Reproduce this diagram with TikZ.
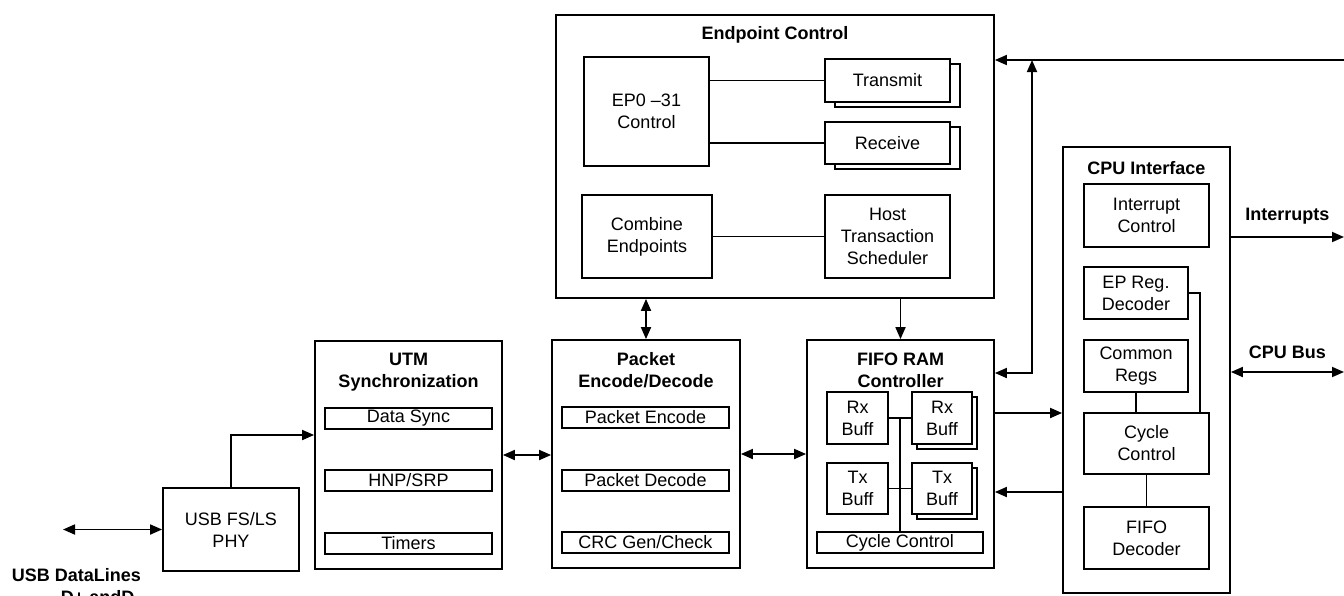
\documentclass[tikz,border=0pt]{standalone}
\usepackage{fontspec}
\setmainfont{Liberation Sans}
\usetikzlibrary{arrows.meta,positioning,shadows}

\begin{document}
\begin{tikzpicture}[x=1pt, y=-1pt, line width=1.8pt,
		font=\fontsize{18}{22}\selectfont,
		box/.style 2 args={draw, fill=white, align=center, inner sep=2pt,
			minimum width=#1, minimum height=#2},
		stack/.style={copy shadow={shadow xshift=#1, shadow yshift=-5pt}},
		ttl/.style={font=\fontsize{18}{22}\selectfont\bfseries, align=center},
		sig/.style={-{Triangle[length=12pt,width=10pt]}},
		bus/.style={{Triangle[length=12pt,width=10pt]}-{Triangle[length=12pt,width=10pt]}}
	]
	\useasboundingbox (0,0) rectangle (1344,595);

	% endpoint control
	\node[box={438pt}{283pt}] (epc) at (775,156.5) {};
	\node[ttl] at (775,35) {Endpoint Control};
	\node[box={125pt}{109pt}] (ep0) at (646.5,111.5) {EP0 --31\\ Control};
	\node[box={125pt}{43pt}, stack=10pt] (tx) at (887.5,80.5) {Transmit};
	\node[box={125pt}{42pt}, stack=10pt] (rx) at (887.5,143) {Receive};
	\node[box={130pt}{83pt}] (comb) at (647,236.5) {Combine\\ Endpoints};
	\node[box={125pt}{83pt}] (host) at (887.5,236.5) {Host\\ Transaction\\ Scheduler};
	\draw (ep0.east |- tx.west) -- (tx.west);
	\draw (ep0.east |- rx.west) -- (rx.west);
	\draw (comb.east) -- (host.west);

	% phy and utm
	\node[box={136pt}{83pt}] (phy) at (231,529.5) {USB FS/LS\\ PHY};
	\node[box={187pt}{228pt}] (utm) at (408.5,455) {};
	\node[ttl] at (408.5,372) {UTM\\ Synchronization};
	\node[box={167pt}{21pt}] (dsync) at (408.5,418.5) {Data Sync};
	\node[box={167pt}{21pt}] (hnp) at (408.5,480.5) {HNP/SRP};
	\node[box={167pt}{21pt}] (tmr) at (408.5,543.5) {Timers};

	% packet encode/decode
	\node[box={188pt}{228pt}] (pkt) at (646,454) {};
	\node[ttl] at (646,370.5) {Packet\\ Encode/Decode};
	\node[box={167pt}{21pt}] (penc) at (645.5,417.5) {Packet Encode};
	\node[box={167pt}{21pt}] (pdec) at (645.5,480.5) {Packet Decode};
	\node[box={167pt}{21pt}] (crc) at (645.5,542.5) {CRC Gen/Check};

	% fifo ram controller
	\node[box={187pt}{228pt}] (fifo) at (900.5,454) {};
	\node[ttl] at (900.5,370) {FIFO RAM\\ Controller};
	\node[box={61pt}{52pt}] (rxl) at (857.5,418) {Rx\\ Buff};
	\node[box={60pt}{52pt}, stack=5pt] (rxr) at (942,418) {Rx\\ Buff};
	\node[box={61pt}{51pt}] (txl) at (857.5,488.5) {Tx\\ Buff};
	\node[box={60pt}{51pt}, stack=5pt] (txr) at (942,488.5) {Tx\\ Buff};
	\node[box={166pt}{21pt}] (fcyc) at (900,542.5) {Cycle Control};
	\draw (fcyc.north) -- (fcyc.north |- rxl.east);
	\draw (rxl.east) -- (rxr.west);
	\draw (txl.east) -- (txr.west);

	% cpu interface
	\node[box={167pt}{446pt}] (cpu) at (1146.5,370) {};
	\node[ttl] at (1146.5,168) {CPU Interface};
	\node[box={125pt}{63pt}] (intc) at (1146.5,215.5) {Interrupt\\ Control};
	\node[box={104pt}{52pt}] (epreg) at (1136,293) {EP Reg.\\ Decoder};
	\node[box={104pt}{52pt}] (creg) at (1136,366) {Common\\ Regs};
	\node[box={125pt}{61pt}] (ccyc) at (1146.5,443.5) {Cycle\\ Control};
	\node[box={125pt}{62pt}] (fdec) at (1146.5,538) {FIFO\\ Decoder};
	\draw (epreg.east) -| ([xshift=-10pt]ccyc.north east);
	\draw (creg.south) -- (creg.south |- ccyc.north);
	\draw (ccyc.south) -- (ccyc.south |- fdec.north);

	% signals
	\coordinate (usbl) at (63,529.5);
	\coordinate (intout) at (1344,237);
	\coordinate (busout) at (1344,372);
	\coordinate (topbus) at (1344,60);
	\coordinate (tap) at (1032,60);
	\coordinate (f2c) at ([yshift=41pt]fifo.east);
	\coordinate (c2f) at ([yshift=-38pt]fifo.east);
	\coordinate (f2e) at ([yshift=81pt]fifo.east);

	\draw[bus] (usbl) -- (phy.west);
	\draw[sig] (phy.north) |- ([yshift=20pt]utm.west);
	\draw[bus] (utm.east) -- (utm.east -| pkt.west);
	\draw[bus] (pkt.east) -- (pkt.east -| fifo.west);
	\draw[bus] (pkt.north |- epc.south) -- (pkt.north);
	\draw[sig] (fifo.north |- epc.south) -- (fifo.north);
	\draw[sig] (topbus) -- (epc.east |- topbus);
	\draw[bus] (f2e) -| (tap);
	\draw[sig] (f2c) -- (f2c -| cpu.west);
	\draw[sig] (c2f -| cpu.west) -- (c2f);
	\draw[sig] (cpu.east |- intout) -- (intout)
		node[midway, above=9pt, ttl] {Interrupts};
	\draw[bus] (cpu.east |- busout) -- (busout)
		node[midway, above=9pt, ttl] {CPU Bus};

	\node[ttl, align=left] (usblbl) at (76.5,586) {USB DataLines\\ \hspace*{49pt}D+ andD-};
\end{tikzpicture}
\end{document}
